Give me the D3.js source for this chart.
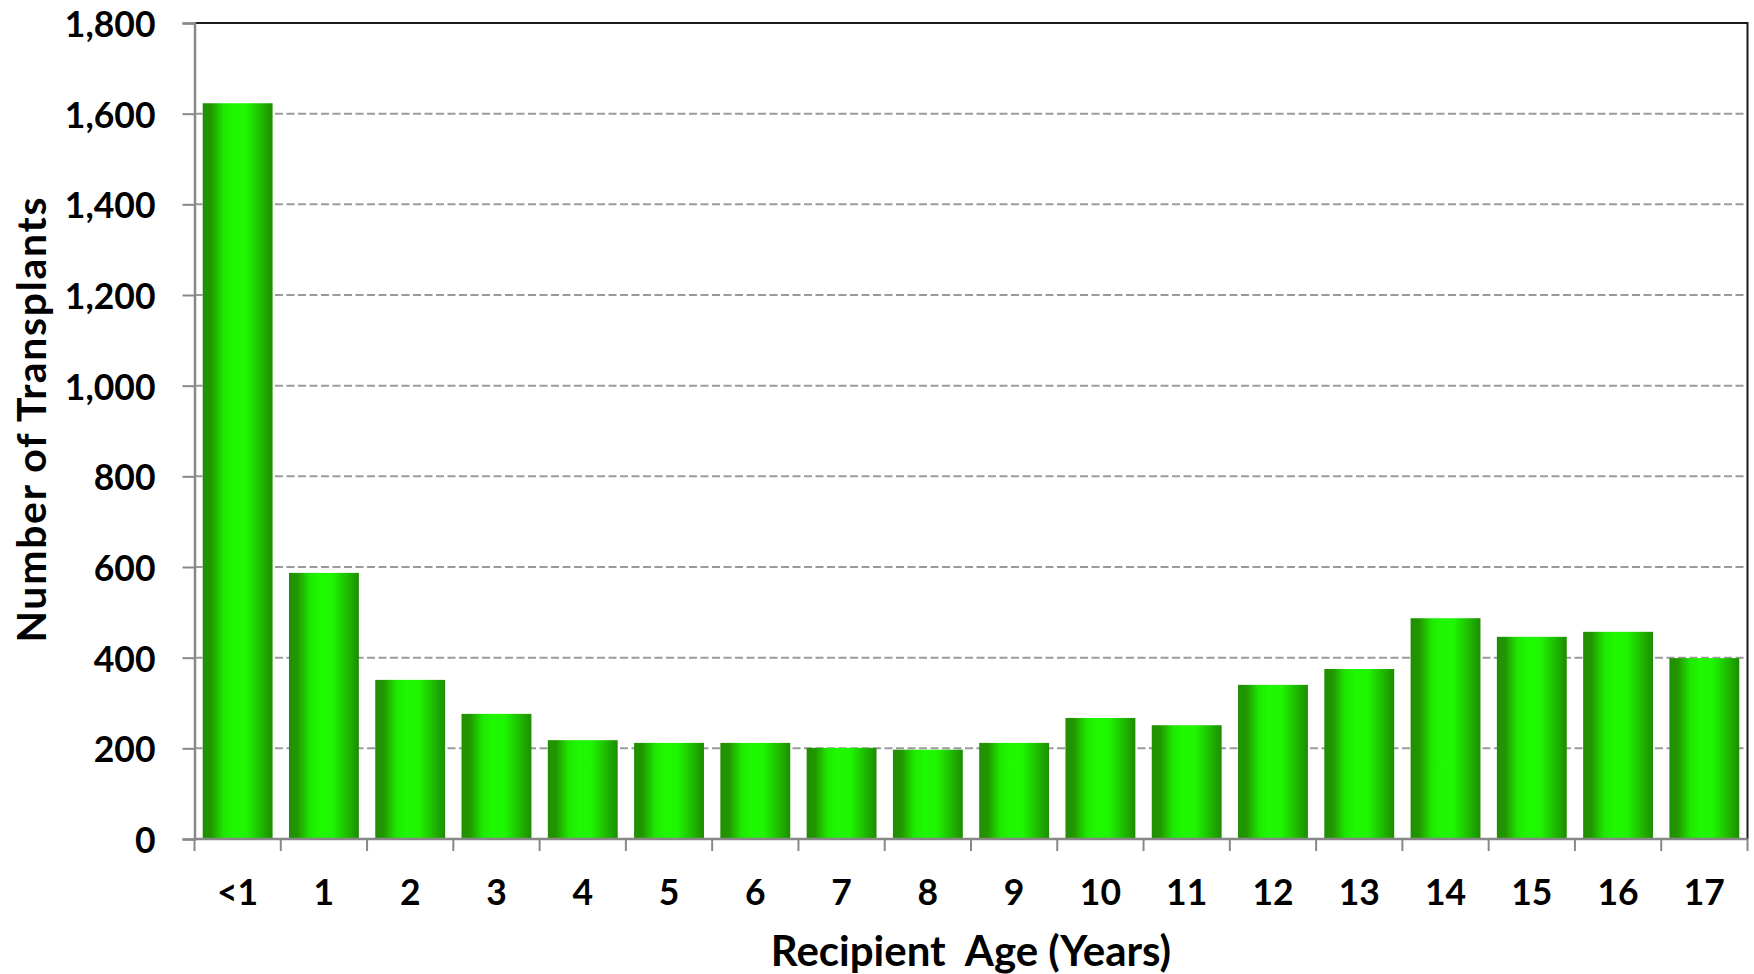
<!DOCTYPE html>
<html>
<head>
<meta charset="utf-8">
<script src="https://cdn.jsdelivr.net/npm/d3@7"></script>
<style>
  html, body { margin: 0; padding: 0; background: #ffffff; }
  svg { display: block; }
  text { font-family: Lato, "Open Sans", "DejaVu Sans", sans-serif; font-weight: 700; fill: #000; }
</style>
</head>
<body>
<svg id="chart" width="1754" height="974"></svg>
<script>
// Age groups of pediatric recipients and transplant counts per group
const ageGroups = ["<1", "1", "2", "3", "4", "5", "6", "7", "8", "9", "10", "11", "12", "13", "14", "15", "16", "17"];
const transplants = [1623, 587, 351, 276, 218, 212, 212, 201, 197, 212, 267, 251, 340, 375, 487, 446, 457, 399];
const yTicks = [0, 200, 400, 600, 800, 1000, 1200, 1400, 1600, 1800];
const xTitle = "Recipient  Age (Years)";
const yTitle = "Number of Transplants";

const margin = { left: 194.5, right: 1747.5, top: 23, bottom: 839 };

const svg = d3.select("#chart");

const x = d3.scaleBand()
  .domain(ageGroups)
  .range([margin.left, margin.right])
  .paddingInner(0.19)
  .paddingOuter(0.095);

const y = d3.scaleLinear()
  .domain([0, 1800])
  .range([margin.bottom, margin.top]);

// Cylinder-like horizontal shading for the bars
const defs = svg.append("defs");
const grad = defs.append("linearGradient")
  .attr("id", "barShade")
  .attr("x1", "0%").attr("x2", "100%").attr("y1", "0%").attr("y2", "0%");
[
  [0, "#218f00"], [0.12, "#229600"], [0.3, "#1ee800"], [0.45, "#1ffa00"],
  [0.62, "#1ff600"], [0.8, "#1ec400"], [1, "#1d8c00"]
].forEach(([o, c]) => grad.append("stop").attr("offset", o).attr("stop-color", c));

// Dashed horizontal gridlines
svg.append("g")
  .selectAll("line")
  .data(yTicks.filter(d => d > 0))
  .join("line")
  .attr("x1", margin.left)
  .attr("x2", margin.right)
  .attr("y1", d => y(d))
  .attr("y2", d => y(d))
  .attr("stroke", "#9a9a9a")
  .attr("stroke-width", 2)
  .attr("stroke-dasharray", "8,3.5");

// Top and right frame of the plot area
svg.append("path")
  .attr("d", `M${margin.left},${margin.top}H${margin.right}V${margin.bottom}`)
  .attr("fill", "none")
  .attr("stroke", "#1a1a1a")
  .attr("stroke-width", 2);

// Bars
svg.append("g")
  .selectAll("rect")
  .data(ageGroups.map((g, i) => ({ g, v: transplants[i] })))
  .join("rect")
  .attr("x", d => x(d.g))
  .attr("width", x.bandwidth())
  .attr("y", d => y(d.v))
  .attr("height", d => y(0) - y(d.v))
  .attr("fill", "url(#barShade)");

// Y axis
const yAxis = svg.append("g")
  .attr("transform", `translate(${margin.left},0)`)
  .call(d3.axisLeft(y).tickValues(yTicks).tickFormat(d3.format(",")).tickSizeOuter(0).tickSize(12).tickPadding(27));
yAxis.select(".domain").attr("stroke", "#888").attr("stroke-width", 2.5);
yAxis.selectAll(".tick line").attr("stroke", "#888").attr("stroke-width", 2);
yAxis.selectAll(".tick text")
  .attr("font-size", 35.5)
  .attr("font-family", null)
  .attr("dy", "0.38em")
  .attr("fill", "#000");

// X axis: ticks at the category boundaries, labels centred in each band
const xAxisG = svg.append("g");
xAxisG.append("line")
  .attr("x1", margin.left).attr("x2", margin.right)
  .attr("y1", y(0)).attr("y2", y(0))
  .attr("stroke", "#888").attr("stroke-width", 2.5);
const boundaries = ageGroups.map(g => x(g) - x.step() * x.paddingOuter()).concat([margin.right]);
xAxisG.selectAll("line.tk")
  .data(boundaries)
  .join("line")
  .attr("class", "tk")
  .attr("x1", d => d).attr("x2", d => d)
  .attr("y1", y(0)).attr("y2", y(0) + 12)
  .attr("stroke", "#888").attr("stroke-width", 2);
xAxisG.selectAll("text")
  .data(ageGroups)
  .join("text")
  .attr("x", d => x(d) + x.bandwidth() / 2)
  .attr("y", 905)
  .attr("text-anchor", "middle")
  .attr("font-size", 35.5)
  .text(d => d);

// Axis titles
svg.append("text")
  .attr("x", (margin.left + margin.right) / 2)
  .attr("y", 966)
  .attr("text-anchor", "middle")
  .attr("font-size", 42)
  .style("white-space", "pre")
  .text(xTitle);

svg.append("text")
  .attr("transform", `translate(46,420) rotate(-90)`)
  .attr("text-anchor", "middle")
  .attr("font-size", 41)
  .attr("textLength", 445)
  .attr("lengthAdjust", "spacing")
  .text(yTitle);
</script>
</body>
</html>
